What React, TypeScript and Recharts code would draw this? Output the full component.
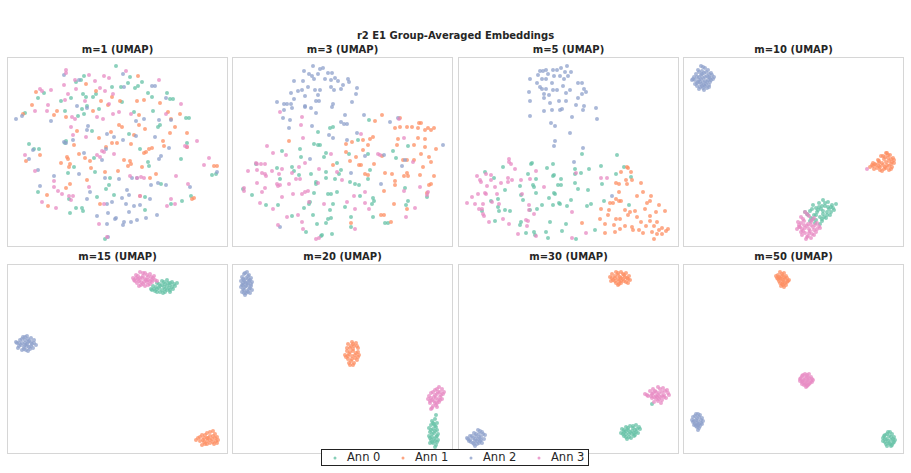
import React from "react";
import { ScatterChart, Scatter, XAxis, YAxis } from "recharts";

// points are [x, y] in panel units (0..221 wide, 0..190 tall, y measured downward)
type Pt = [number, number];

const annNames = ["Ann 0", "Ann 1", "Ann 2", "Ann 3"];
const annColors = ["#66c2a5", "#fc8d62", "#8da0cb", "#e78ac3"];
const panelTitles = ["m=1 (UMAP)", "m=3 (UMAP)", "m=5 (UMAP)", "m=10 (UMAP)", "m=15 (UMAP)", "m=20 (UMAP)", "m=30 (UMAP)", "m=50 (UMAP)"];

// ---- m=1 ----
const m1Ann0: Pt[] = [[109,9],[77,19],[123,20],[74,23],[69,25],[135,25],[121,26],[105,30],[114,30],[128,31],[131,29],[37,36],[76,37],[89,37],[141,36],[160,36],[31,41],[64,41],[79,40],[86,40],[145,40],[163,42],[166,42],[54,44],[115,45],[80,49],[75,52],[92,52],[58,54],[127,55],[146,54],[71,59],[77,57],[182,61],[179,61],[18,56],[153,68],[151,70],[85,74],[122,77],[59,84],[58,86],[180,86],[22,87],[32,92],[27,92],[133,92],[87,101],[141,105],[174,102],[67,110],[142,109],[61,116],[88,115],[103,121],[154,127],[102,128],[99,132],[31,135],[107,138],[138,140],[90,140],[62,142],[184,139],[175,144],[164,147],[69,151],[75,151],[76,154],[63,156],[138,153],[205,118],[209,117],[98,182]];
const m1Ann1: Pt[] = [[131,19],[89,34],[29,35],[79,27],[105,40],[94,44],[113,44],[130,44],[137,43],[25,48],[153,46],[50,54],[47,58],[86,54],[101,48],[161,55],[173,57],[16,57],[59,60],[164,62],[132,58],[112,68],[115,70],[132,68],[138,72],[168,70],[70,74],[104,75],[127,78],[163,76],[180,76],[92,81],[105,86],[110,86],[124,87],[156,84],[67,88],[99,90],[157,89],[180,90],[145,91],[142,92],[139,95],[137,96],[33,98],[72,97],[60,100],[61,102],[78,101],[83,104],[117,103],[123,104],[124,107],[121,109],[54,106],[63,107],[19,104],[135,110],[207,109],[210,109],[62,110],[84,111],[111,114],[98,115],[149,117],[143,121],[80,123],[63,127],[59,131],[40,138],[93,147],[41,149],[185,142],[187,141],[133,139]];
const m1Ann2: Pt[] = [[116,17],[57,18],[72,23],[145,29],[148,29],[117,30],[159,41],[70,49],[80,51],[9,62],[15,59],[44,64],[137,62],[152,63],[164,63],[129,64],[81,69],[80,73],[100,77],[107,80],[129,79],[148,80],[66,83],[59,86],[57,85],[116,83],[162,91],[26,93],[99,92],[77,96],[154,99],[152,102],[22,102],[95,103],[31,113],[72,117],[47,119],[98,121],[112,122],[125,121],[130,121],[151,126],[144,128],[159,128],[33,129],[120,133],[83,135],[183,130],[122,138],[143,142],[80,142],[115,141],[105,145],[100,147],[119,147],[127,149],[133,148],[101,156],[122,155],[90,159],[109,161],[108,162],[139,161],[150,158],[130,163],[124,165],[117,165],[116,168],[100,167],[210,115],[101,180]];
const m1Ann3: Pt[] = [[59,13],[59,16],[82,18],[97,19],[102,21],[119,14],[88,24],[152,23],[68,23],[57,28],[69,32],[33,32],[35,34],[44,33],[93,31],[98,34],[61,37],[106,37],[58,43],[78,44],[41,48],[102,47],[174,47],[28,54],[40,54],[159,57],[112,55],[106,57],[90,60],[96,62],[124,57],[65,60],[68,62],[64,70],[66,78],[79,80],[190,84],[178,89],[180,90],[95,94],[97,95],[93,100],[90,98],[107,97],[18,98],[202,101],[197,108],[28,114],[123,119],[130,121],[134,120],[137,121],[169,119],[47,124],[82,130],[181,127],[47,130],[51,134],[55,137],[62,139],[66,139],[64,143],[35,145],[133,139],[164,142],[97,147],[168,147],[160,149],[49,151],[92,167],[100,180]];

// ---- m=3 ----
const m3Ann0: Pt[] = [[137,63],[98,71],[101,70],[86,75],[126,83],[82,87],[86,88],[88,88],[176,89],[68,92],[50,94],[94,96],[136,97],[117,97],[161,94],[69,100],[92,100],[164,101],[105,106],[24,107],[60,110],[62,114],[45,111],[109,113],[107,117],[138,113],[94,115],[67,118],[79,117],[94,121],[103,122],[48,122],[136,122],[84,125],[84,127],[118,125],[123,127],[127,128],[173,131],[11,132],[20,138],[82,136],[96,137],[99,137],[105,135],[128,139],[141,141],[78,145],[77,147],[34,148],[46,148],[176,144],[174,148],[101,147],[113,150],[72,151],[98,153],[142,144],[140,147],[60,159],[81,158],[96,162],[99,161],[119,160],[141,160],[153,166],[156,166],[85,167],[94,166],[119,170],[74,175],[90,178],[89,179],[100,177],[195,140]];
const m3Ann1: Pt[] = [[150,58],[143,64],[168,61],[187,66],[189,66],[163,71],[168,70],[175,70],[180,70],[186,71],[193,73],[196,71],[199,73],[202,71],[57,84],[141,80],[138,82],[131,83],[120,85],[114,87],[166,82],[186,81],[193,82],[165,88],[136,88],[182,88],[193,90],[204,92],[131,93],[189,97],[197,100],[114,95],[124,100],[150,99],[118,104],[142,107],[171,103],[175,103],[182,103],[199,105],[129,108],[127,108],[101,108],[191,110],[153,116],[133,117],[136,118],[160,117],[175,116],[172,119],[176,119],[188,118],[202,119],[163,124],[163,128],[199,127],[197,128],[152,134],[195,136],[162,147],[175,152],[149,158],[152,158],[119,166],[159,165]];
const m3Ann2: Pt[] = [[81,9],[88,12],[91,11],[72,14],[77,17],[80,19],[86,17],[96,16],[100,16],[103,21],[93,22],[99,23],[106,24],[116,22],[117,25],[82,22],[62,24],[71,24],[111,28],[76,30],[99,30],[125,31],[70,33],[66,34],[83,33],[88,33],[102,33],[109,32],[59,36],[73,39],[86,38],[124,37],[62,42],[84,44],[87,44],[45,45],[52,47],[55,47],[59,47],[73,49],[73,50],[101,47],[120,45],[60,51],[52,53],[79,51],[100,50],[84,56],[113,58],[51,61],[132,58],[58,63],[109,65],[112,67],[115,67],[80,69],[57,71],[158,65],[166,61],[97,78],[125,76],[101,81],[115,83],[211,88],[78,102],[133,99],[152,98],[170,109],[119,116],[149,127],[48,170],[173,103]];
const m3Ann3: Pt[] = [[48,55],[70,60],[69,68],[167,62],[129,77],[71,81],[172,81],[35,89],[41,96],[54,98],[99,97],[146,97],[148,98],[24,106],[25,107],[29,107],[33,107],[73,106],[25,113],[40,114],[50,112],[67,110],[60,116],[87,112],[105,115],[16,114],[30,116],[33,117],[34,119],[181,105],[47,117],[64,122],[68,122],[25,126],[45,127],[48,128],[46,129],[57,127],[86,126],[110,123],[33,131],[12,131],[12,134],[30,135],[61,137],[70,137],[73,135],[76,134],[133,135],[172,134],[188,130],[196,135],[195,138],[50,140],[122,139],[28,146],[77,145],[92,147],[115,145],[133,146],[183,151],[41,152],[123,152],[137,152],[66,158],[55,160],[174,160],[70,165],[46,168],[123,172],[71,172],[84,182],[87,181]];

// ---- m=5 ----
const m5Ann0: Pt[] = [[124,97],[159,98],[45,110],[73,107],[74,106],[95,107],[89,111],[117,112],[131,112],[143,109],[166,110],[70,117],[96,118],[95,119],[117,117],[123,116],[36,121],[78,122],[103,122],[158,117],[173,120],[144,127],[62,129],[75,128],[76,130],[100,128],[103,128],[117,126],[47,133],[120,132],[130,133],[78,136],[96,136],[97,137],[63,138],[91,141],[113,143],[33,144],[40,142],[146,144],[65,143],[101,146],[102,147],[109,149],[84,148],[95,148],[133,147],[171,148],[40,150],[41,154],[72,153],[79,152],[27,115],[47,153],[52,154],[24,154],[129,149],[37,164],[63,165],[92,165],[108,167],[62,168],[137,173],[104,174],[76,175],[77,178],[88,175],[68,176],[90,181],[118,182]];
const m5Ann1: Pt[] = [[169,110],[170,111],[163,115],[173,115],[158,126],[161,127],[168,123],[174,123],[183,126],[169,127],[161,135],[179,139],[185,135],[193,139],[158,142],[161,144],[163,144],[152,146],[155,146],[189,146],[192,144],[201,148],[143,152],[151,153],[167,153],[172,155],[177,154],[187,152],[198,155],[207,154],[150,158],[158,162],[162,162],[170,158],[179,160],[192,159],[142,162],[183,165],[192,164],[199,165],[124,166],[147,167],[156,168],[167,169],[174,170],[175,173],[181,173],[188,169],[196,169],[204,171],[210,172],[208,174],[162,172],[147,176],[185,176],[201,173],[199,177],[194,175],[204,177],[196,182],[157,175]];
const m5Ann2: Pt[] = [[109,9],[82,14],[85,14],[88,13],[95,13],[99,13],[103,11],[107,15],[113,15],[80,18],[90,17],[96,19],[102,19],[110,19],[72,22],[84,22],[88,22],[106,22],[120,26],[124,26],[79,26],[94,26],[105,29],[82,30],[84,32],[88,32],[95,33],[99,33],[112,33],[126,32],[71,35],[86,37],[86,41],[91,38],[128,35],[108,36],[120,41],[124,37],[72,44],[101,44],[108,44],[92,46],[118,48],[126,49],[125,53],[86,54],[94,53],[102,53],[104,52],[138,51],[114,60],[72,59],[139,62],[93,66],[97,69],[112,76],[97,84],[96,89],[125,91],[116,105],[154,139]];
const m5Ann3: Pt[] = [[51,102],[51,105],[53,107],[57,112],[78,114],[19,119],[28,117],[33,118],[22,123],[23,125],[33,123],[50,121],[54,123],[72,122],[118,116],[143,121],[149,121],[29,129],[37,130],[43,126],[50,125],[63,123],[86,130],[27,136],[28,137],[20,137],[14,140],[39,137],[64,137],[9,146],[17,147],[25,147],[34,145],[71,148],[21,152],[24,152],[41,147],[71,153],[25,157],[26,159],[114,155],[76,157],[45,162],[31,165],[68,163],[70,164],[51,167],[69,169],[60,177],[78,179],[114,181],[128,176]];

// ---- m=10 ----
const m10Ann0: Pt[] = [[140,143],[145,145],[136,146],[153,147],[130,148],[142,149],[148,150],[138,152],[151,153],[127,154],[134,155],[144,155],[122,155],[140,157],[147,158],[131,158],[137,160],[143,161],[128,161],[133,163],[139,164],[150,151],[125,158],[146,152],[136,150],[141,160],[132,166],[137,167],[127,164],[142,146],[149,148],[139,149],[133,151],[145,150],[129,152],[140,154],[135,153],[148,155],[124,157],[133,158],[144,158],[139,162],[130,162]];
const m10Ann1: Pt[] = [[203,96],[207,98],[198,99],[210,101],[201,102],[195,103],[206,104],[211,106],[190,106],[199,106],[193,108],[204,108],[209,110],[187,110],[197,110],[201,112],[206,113],[191,112],[200,99],[205,101],[196,106],[208,107],[202,110],[194,111],[211,103],[199,114],[204,96],[190,109],[205,98],[202,100],[208,102],[196,104],[203,105],[209,105],[192,107],[200,108],[206,109],[189,108],[196,109],[203,111],[197,113],[208,112]];
const m10Ann2: Pt[] = [[18,9],[22,11],[25,13],[15,13],[28,16],[21,16],[12,23],[16,20],[24,19],[30,22],[9,23],[17,25],[22,24],[27,25],[14,29],[19,29],[24,31],[21,33],[29,18],[13,17],[20,21],[26,28],[16,32],[11,20],[23,27],[19,14],[27,21],[14,26],[31,20],[18,18],[25,23],[21,28],[16,23],[12,27],[20,10],[16,15],[23,15],[26,17],[19,17],[14,20],[22,20],[26,20],[10,22],[18,22],[28,23],[15,25],[20,25],[24,25],[18,27],[22,29],[17,30],[26,30],[20,31]];
const m10Ann3: Pt[] = [[122,155],[118,160],[126,159],[131,161],[115,165],[121,164],[128,165],[134,166],[117,170],[124,169],[130,170],[137,171],[114,172],[120,174],[127,174],[133,175],[119,178],[125,179],[131,178],[123,182],[128,181],[116,168],[136,169],[122,171],[128,168],[118,175],[134,172],[126,176],[121,168],[184,112],[124,157],[120,162],[129,163],[118,166],[125,167],[132,168],[119,172],[126,172],[131,173],[122,176],[129,177],[124,180],[116,170]];

// ---- m=15 ----
const m15Ann0: Pt[] = [[160,16],[155,17],[165,18],[170,19],[150,19],[158,20],[163,21],[146,22],[153,22],[168,22],[157,23],[162,24],[144,25],[150,25],[155,26],[160,26],[166,25],[148,27],[153,28],[158,28],[163,28],[145,26],[152,20],[161,19],[157,18],[163,19],[167,20],[155,21],[160,22],[165,23],[149,23],[152,24],[158,25],[163,26],[147,25],[150,28],[156,29]];
const m15Ann1: Pt[] = [[206,167],[200,169],[208,170],[195,171],[203,172],[210,173],[191,174],[197,174],[205,175],[200,177],[209,177],[193,177],[198,180],[203,179],[195,181],[207,180],[189,176],[211,176],[201,174],[203,168],[198,171],[206,172],[193,173],[200,174],[208,174],[196,176],[203,176],[206,178],[200,180],[197,178],[210,179]];
const m15Ann2: Pt[] = [[16,73],[20,72],[24,74],[13,76],[18,76],[22,77],[27,76],[10,79],[15,79],[20,80],[25,80],[29,81],[12,82],[17,83],[22,83],[26,84],[15,86],[19,86],[23,85],[9,78],[21,75],[18,81],[18,73],[15,75],[21,78],[12,79],[18,79],[24,78],[27,79],[14,81],[20,82],[24,82],[17,85],[21,87],[11,84]];
const m15Ann3: Pt[] = [[133,8],[138,9],[143,10],[129,11],[136,12],[141,13],[147,12],[126,14],[131,15],[138,15],[145,16],[128,17],[134,18],[140,18],[150,17],[130,19],[136,20],[143,20],[132,22],[138,22],[127,16],[146,14],[135,14],[141,16],[148,16],[136,9],[140,11],[131,12],[144,13],[133,14],[129,14],[139,16],[143,17],[132,17],[137,18],[145,18],[134,21],[141,21]];

// ---- m=20 ----
const m20Ann0: Pt[] = [[204,151],[203,155],[200,157],[205,159],[199,161],[203,162],[197,164],[201,165],[205,166],[198,168],[202,169],[206,170],[197,172],[200,173],[204,173],[199,176],[203,177],[206,176],[201,179],[204,181],[198,179],[202,160],[201,159],[204,163],[199,166],[203,167],[200,170],[205,172],[198,174],[202,175],[200,178],[205,178],[203,183]];
const m20Ann1: Pt[] = [[120,78],[124,79],[116,80],[122,82],[118,84],[126,84],[115,87],[121,87],[124,89],[117,90],[127,91],[113,91],[120,92],[123,94],[116,95],[125,96],[119,97],[122,99],[117,99],[121,101],[114,93],[126,88],[121,80],[119,82],[125,82],[115,84],[121,85],[118,88],[123,91],[116,92],[120,95],[126,93],[118,101]];
const m20Ann2: Pt[] = [[15,8],[12,10],[17,11],[10,13],[14,14],[19,14],[12,16],[17,17],[9,17],[14,19],[20,18],[11,21],[16,21],[19,22],[13,23],[9,23],[17,25],[12,26],[15,27],[20,26],[10,28],[14,29],[18,29],[13,31],[16,12],[11,19],[13,9],[16,15],[11,15],[18,16],[13,18],[16,19],[10,21],[14,22],[18,24],[11,25],[16,28],[12,29],[19,20]];
const m20Ann3: Pt[] = [[207,123],[210,125],[203,126],[208,128],[199,129],[205,130],[211,130],[197,132],[202,133],[208,133],[196,135],[200,136],[206,136],[210,135],[198,139],[203,139],[207,138],[201,142],[205,143],[199,145],[204,141],[212,128],[200,144],[205,125],[201,128],[206,128],[203,131],[209,131],[199,134],[204,134],[198,137],[205,139],[202,137],[208,136]];

// ---- m=30 ----
const m30Ann0: Pt[] = [[178,161],[181,163],[172,162],[168,163],[175,164],[164,165],[170,166],[177,166],[182,165],[166,168],[172,168],[178,168],[163,169],[168,170],[174,170],[180,169],[166,172],[171,173],[176,172],[169,175],[194,140],[175,162],[170,164],[179,165],[166,166],[174,167],[168,167],[176,169],[165,170],[171,170],[177,171],[168,173],[173,174]];
const m30Ann1: Pt[] = [[158,8],[163,8],[168,9],[154,10],[160,11],[166,11],[171,12],[152,13],[157,14],[163,14],[169,14],[155,16],[161,17],[166,17],[172,16],[158,19],[163,19],[160,21],[153,17],[170,19],[160,9],[165,10],[157,12],[162,13],[167,13],[154,14],[160,15],[165,15],[170,15],[157,17],[163,17],[168,18],[161,20]];
const m30Ann2: Pt[] = [[20,166],[24,168],[16,169],[21,170],[27,171],[12,172],[18,172],[23,173],[9,174],[15,174],[20,175],[26,175],[12,176],[17,177],[22,177],[15,179],[19,180],[24,179],[17,182],[11,177],[22,167],[18,170],[25,170],[14,172],[21,173],[10,175],[17,175],[23,176],[19,177],[13,178],[21,179],[16,180]];
const m30Ann3: Pt[] = [[200,123],[205,124],[195,125],[209,126],[192,127],[198,128],[204,128],[210,129],[187,130],[194,130],[200,131],[206,131],[211,131],[190,132],[196,133],[202,133],[208,134],[198,135],[204,136],[194,134],[200,137],[196,138],[203,139],[202,125],[197,127],[207,127],[201,129],[195,129],[189,131],[204,132],[198,132],[193,132],[206,133],[201,135],[199,133]];

// ---- m=50 ----
const m50Ann0: Pt[] = [[205,168],[209,170],[202,171],[206,172],[211,173],[200,174],[204,175],[208,176],[212,176],[202,178],[206,179],[210,179],[204,182],[208,182],[200,177],[207,168],[204,170],[208,173],[202,175],[210,175],[205,177],[203,180],[207,180],[211,178],[201,172],[209,181]];
const m50Ann1: Pt[] = [[97,8],[101,9],[95,11],[99,12],[103,12],[94,14],[98,15],[102,15],[106,16],[96,17],[100,18],[104,18],[99,20],[103,21],[101,23],[97,14],[99,10],[96,13],[101,13],[104,14],[100,16],[97,19],[102,19],[95,15],[105,17],[100,21],[98,22],[93,12]];
const m50Ann2: Pt[] = [[13,150],[17,151],[10,153],[14,154],[19,154],[11,157],[15,157],[20,157],[12,160],[16,160],[19,160],[14,163],[17,162],[15,166],[10,158],[15,150],[12,152],[16,153],[18,156],[13,156],[9,156],[14,159],[18,159],[11,161],[15,161],[16,164],[13,162]];
const m50Ann3: Pt[] = [[122,110],[126,110],[119,112],[124,113],[128,113],[117,115],[121,116],[125,116],[130,116],[119,118],[123,119],[127,119],[121,121],[125,121],[123,123],[117,117],[129,118],[120,111],[124,111],[118,114],[122,114],[126,114],[129,115],[120,117],[124,117],[128,117],[122,120],[126,120],[119,120],[124,122]];

const panels: Pt[][][] = [
  [m1Ann0, m1Ann1, m1Ann2, m1Ann3],
  [m3Ann0, m3Ann1, m3Ann2, m3Ann3],
  [m5Ann0, m5Ann1, m5Ann2, m5Ann3],
  [m10Ann0, m10Ann1, m10Ann2, m10Ann3],
  [m15Ann0, m15Ann1, m15Ann2, m15Ann3],
  [m20Ann0, m20Ann1, m20Ann2, m20Ann3],
  [m30Ann0, m30Ann1, m30Ann2, m30Ann3],
  [m50Ann0, m50Ann1, m50Ann2, m50Ann3],
];

const colLefts = [7, 232, 458, 683];
const rowTops = [57, 264];
const PW = 221;
const PH = 190;
const font = "'DejaVu Sans', sans-serif";

const Dot = (props: any) => (
  <circle cx={props.cx} cy={props.cy} r={2} fill={props.fill} fillOpacity={0.75} />
);

const Panel = ({ idx }: { idx: number }) => {
  const left = colLefts[idx % 4];
  const top = rowTops[Math.floor(idx / 4)];
  return (
    <>
      <div
        style={{
          position: "absolute", left, top: top - 13, width: PW, height: 12,
          lineHeight: "12px", textAlign: "center", fontFamily: font,
          fontWeight: "bold", fontSize: 10, color: "#262626",
        }}
      >
        {panelTitles[idx]}
      </div>
      <div style={{ position: "absolute", left, top, width: PW, height: PH }}>
        <ScatterChart width={PW} height={PH} margin={{ top: 0, right: 0, bottom: 0, left: 0 }}>
          <XAxis type="number" dataKey="x" domain={[0, PW]} hide />
          <YAxis type="number" dataKey="y" domain={[0, PH]} reversed hide />
          {panels[idx].map((pts, k) => (
            <Scatter
              key={k}
              name={annNames[k]}
              data={pts.map(([x, y]) => ({ x, y }))}
              fill={annColors[k]}
              shape={Dot}
              isAnimationActive={false}
            />
          ))}
        </ScatterChart>
        <div
          style={{
            position: "absolute", left: 0, top: 0, width: PW, height: PH,
            boxSizing: "border-box", border: "1.5px solid #d6d6d6", pointerEvents: "none",
          }}
        />
      </div>
    </>
  );
};

export default function App() {
  return (
    <div style={{ position: "absolute", left: 0, top: 0, width: 911, height: 473, background: "#fff", fontFamily: font }}>
      <div
        style={{
          position: "absolute", left: 0, top: 30, width: 911, height: 12, lineHeight: "12px",
          textAlign: "center", fontWeight: "bold", fontSize: 10, color: "#262626",
        }}
      >
        r2 E1 Group-Averaged Embeddings
      </div>
      {panels.map((_, i) => (
        <Panel key={i} idx={i} />
      ))}
      <div
        style={{
          position: "absolute", left: 321, top: 449, width: 268, height: 17,
          boxSizing: "border-box", border: "1px solid #222", background: "#fff",
        }}
      >
        {annNames.map((n, k) => (
          <div key={n} style={{ position: "absolute", left: 8 + k * 68, top: 0, height: 15, lineHeight: "15px", whiteSpace: "nowrap", fontSize: 11.5, color: "#262626" }}>
            <svg width={10} height={15} style={{ verticalAlign: "top" }}>
              <circle cx={5} cy={8} r={1.5} fill={annColors[k]} fillOpacity={0.8} />
            </svg>
            <span style={{ marginLeft: 7 }}>{n}</span>
          </div>
        ))}
      </div>
    </div>
  );
}
